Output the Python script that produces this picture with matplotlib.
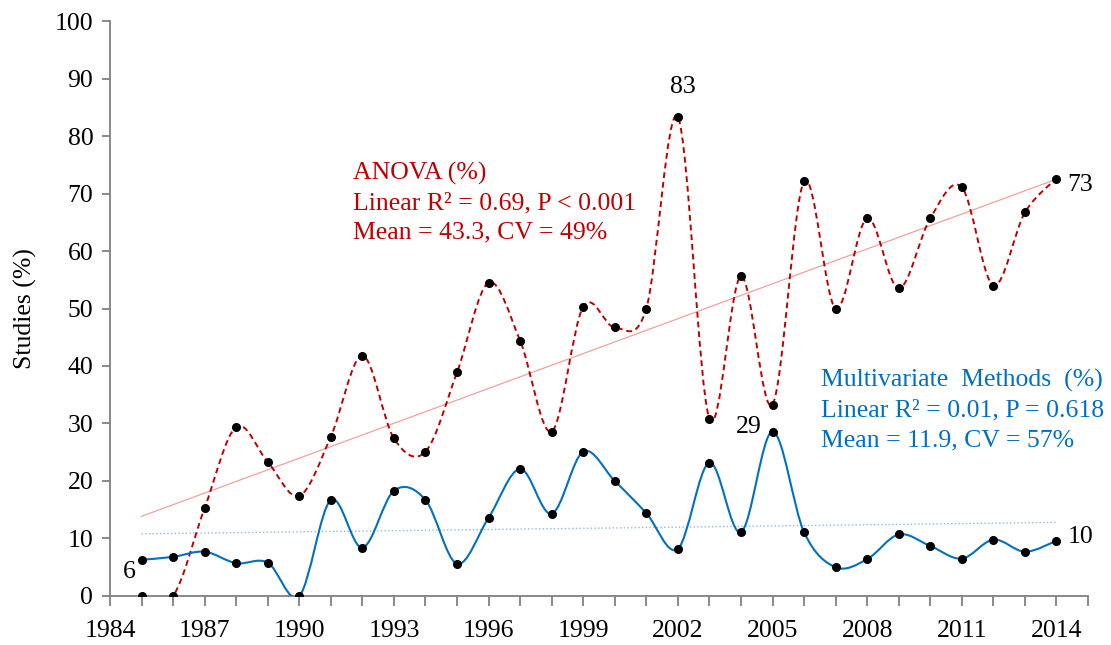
import numpy as np
import matplotlib
matplotlib.use("Agg")
import matplotlib.pyplot as plt
from matplotlib.path import Path
from matplotlib.patches import PathPatch
from matplotlib.ticker import MultipleLocator

years = list(range(1985, 2015))
anova = [0, 0, 15.3, 29.4, 23.3, 17.4, 27.7, 41.8, 27.4, 25.1, 38.9, 54.5, 44.4, 28.6, 50.3,
         46.7, 50.0, 83.3, 30.8, 55.6, 33.3, 72.1, 50.0, 65.7, 53.5, 65.7, 71.1, 54.0, 66.7, 72.6]
multi = [6.3, 6.8, 7.7, 5.7, 5.8, 0, 16.7, 8.4, 18.3, 16.7, 5.6, 13.6, 22.1, 14.3, 25.1,
         20.0, 14.4, 8.2, 23.2, 11.1, 28.6, 11.1, 5.0, 6.4, 10.7, 8.7, 6.5, 9.8, 7.7, 9.6]

plt.rcParams['font.family'] = ['Liberation Serif', 'DejaVu Serif']

RED = '#C00000'
BLUE = '#0070C0'
FS = 18.5


def smooth_path(x, y):
    x = np.asarray(x, float)
    y = np.asarray(y, float)
    pts = np.column_stack([x, y])
    n = len(pts)
    verts = [pts[0]]
    codes = [Path.MOVETO]
    for i in range(n - 1):
        p0 = pts[i - 1] if i > 0 else pts[i]
        p1 = pts[i]
        p2 = pts[i + 1]
        p3 = pts[i + 2] if i + 2 < n else pts[i + 1]
        c1 = p1 + (p2 - p0) / 6.0
        c2 = p2 - (p3 - p1) / 6.0
        verts += [c1, c2, p2]
        codes += [Path.CURVE4] * 3
    return Path(verts, codes)


fig = plt.figure(figsize=(11.11, 6.45), dpi=100)
ax = fig.add_axes([0.099, 0.076, 0.8803, 0.8914])

# trend lines
for vals, col, ls, lw in [(anova, '#F2A0A0', '-', 0.9), (multi, '#8DB8E8', ':', 1.0)]:
    k, b = np.polyfit(years, vals, 1)
    xs = np.array([years[0], years[-1]])
    ax.plot(xs, k * xs + b, color=col, ls=ls, lw=lw, zorder=2)

ax.add_patch(PathPatch(smooth_path(years, anova), fill=False, edgecolor=RED,
                       lw=1.4, ls=(0, (3, 2)), zorder=3))
ax.add_patch(PathPatch(smooth_path(years, multi), fill=False, edgecolor=BLUE,
                       lw=1.5, zorder=3))
ax.plot(years, anova, 'o', color='black', ms=5.5, zorder=4)
ax.plot(years, multi, 'o', color='black', ms=5.5, zorder=4)

ax.set_xlim(1984, 2015)
ax.set_ylim(0, 100)
ax.xaxis.set_major_locator(MultipleLocator(3))
ax.xaxis.set_minor_locator(MultipleLocator(1))
ax.yaxis.set_major_locator(MultipleLocator(10))
ax.set_xticks(list(range(1984, 2015, 3)))
for s in ['top', 'right']:
    ax.spines[s].set_visible(False)
for s in ['left', 'bottom']:
    ax.spines[s].set_color('#808080')
    ax.spines[s].set_linewidth(1.3)
ax.tick_params(axis='both', which='both', colors='#808080', labelcolor='black',
               labelsize=FS, direction='out')
ax.tick_params(axis='x', which='major', length=7, width=1.3, pad=10)
ax.tick_params(axis='x', which='minor', length=7, width=1.3)
ax.tick_params(axis='y', which='major', length=6, width=1.3, pad=6)
ax.set_ylabel('Studies (%)', fontsize=FS, labelpad=13)

# value labels
ax.text(1984.6, 4.2, '6', fontsize=FS, ha='center', va='center')
ax.text(2002.15, 88.5, '83', fontsize=FS, ha='center', va='center')
ax.text(2014.35, 71.5, '73', fontsize=FS, ha='left', va='center')
ax.text(2004.25, 29.4, '29', fontsize=FS, ha='center', va='center')
ax.text(2014.35, 10.3, '10', fontsize=FS, ha='left', va='center')

ax.text(1991.69, 68.4,
        'ANOVA (%)\nLinear R² = 0.69, P < 0.001\nMean = 43.3, CV = 49%',
        color=RED, fontsize=FS, ha='left', va='center', linespacing=1.45)
ax.text(2006.53, 32.3,
        'Multivariate  Methods  (%)\nLinear R² = 0.01, P = 0.618\nMean = 11.9, CV = 57%',
        color=BLUE, fontsize=FS, ha='left', va='center', linespacing=1.45)

fig.savefig('out.png', dpi=100)
